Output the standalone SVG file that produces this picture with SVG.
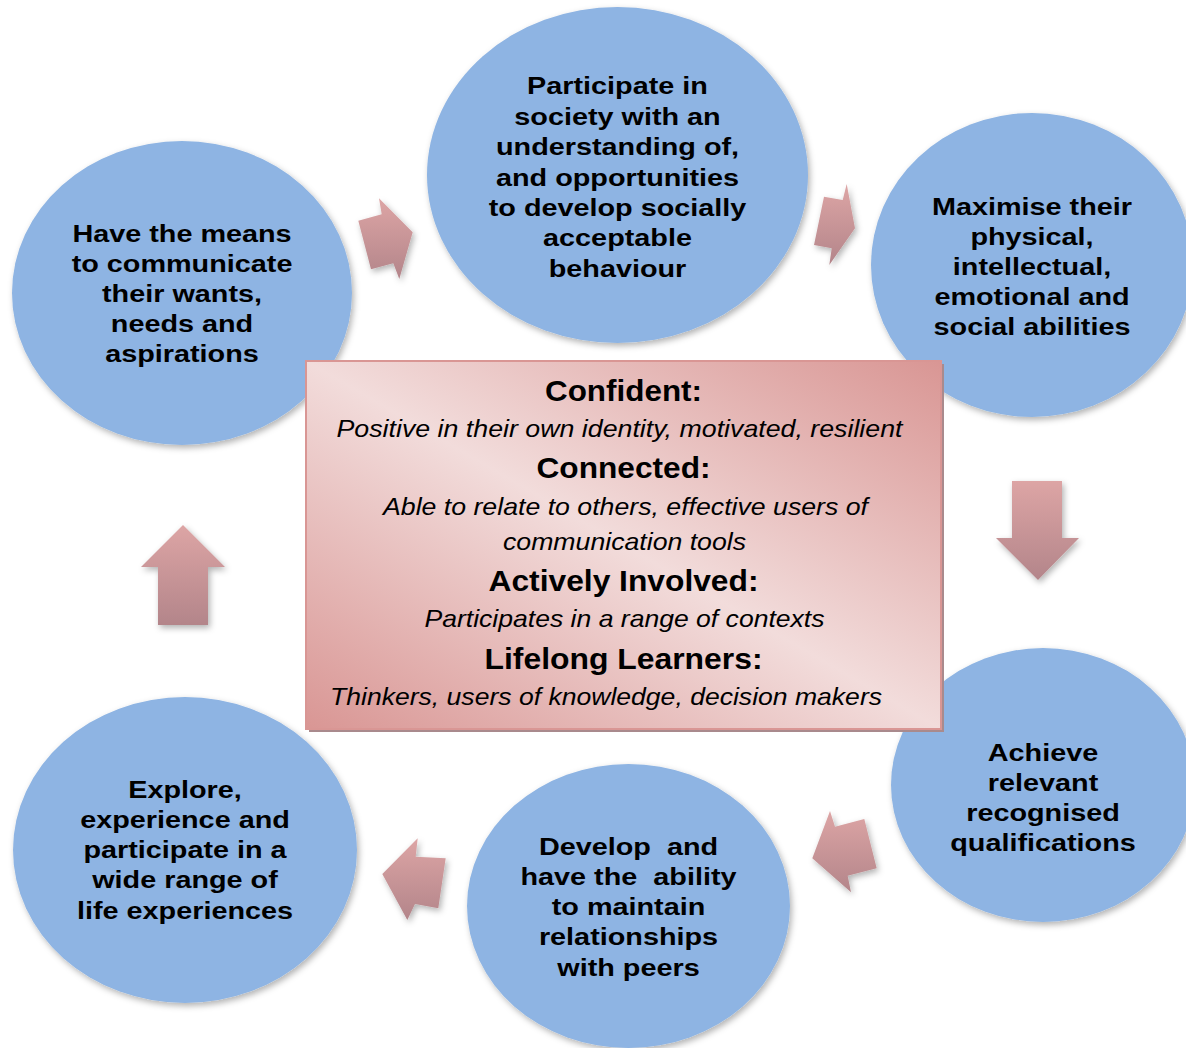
<svg xmlns="http://www.w3.org/2000/svg" width="1186" height="1048" viewBox="0 0 1186 1048">
<defs>
<style>
.circle{fill:#8eb4e3;filter:url(#soft);}
.ctext{font-family:"Liberation Sans",Arial,sans-serif;font-weight:bold;font-size:24px;fill:#000;text-anchor:middle;}
.arrow{fill:url(#arrowGrad);filter:url(#soft);}
.head{font-family:"Liberation Sans",Arial,sans-serif;font-weight:bold;font-size:30px;fill:#000;text-anchor:middle;}
.desc{font-family:"Liberation Sans",Arial,sans-serif;font-style:italic;font-size:24px;fill:#000;text-anchor:middle;}
</style>
<filter id="soft" x="-20%" y="-20%" width="140%" height="140%">
<feDropShadow dx="2" dy="3" stdDeviation="3" flood-color="#000" flood-opacity="0.3"/>
</filter>
<linearGradient id="arrowGrad" x1="0" y1="0" x2="0" y2="1">
<stop offset="0" stop-color="#dda5a5"/>
<stop offset="1" stop-color="#b3858a"/>
</linearGradient>
<linearGradient id="boxGrad" x1="0" y1="1" x2="1" y2="0">
<stop offset="0" stop-color="#d99694"/>
<stop offset="0.5" stop-color="#f2dcdb"/>
<stop offset="1" stop-color="#d99694"/>
</linearGradient>
</defs>

<g id="node-communicate">
<ellipse class="circle" cx="182" cy="293" rx="170" ry="152"/>
<g transform="translate(182 0) scale(1.2 1)">
<text class="ctext" x="0" y="242">Have the means</text>
<text class="ctext" x="0" y="272">to communicate</text>
<text class="ctext" x="0" y="302">their wants,</text>
<text class="ctext" x="0" y="332">needs and</text>
<text class="ctext" x="0" y="362">aspirations</text>
</g>
</g>

<g id="node-participate">
<ellipse class="circle" cx="617.5" cy="175" rx="190.5" ry="168"/>
<g transform="translate(617.5 0) scale(1.2 1)">
<text class="ctext" x="0" y="94">Participate in</text>
<text class="ctext" x="0" y="125">society with an</text>
<text class="ctext" x="0" y="155">understanding of,</text>
<text class="ctext" x="0" y="186">and opportunities</text>
<text class="ctext" x="0" y="216">to develop socially</text>
<text class="ctext" x="0" y="246">acceptable</text>
<text class="ctext" x="0" y="277">behaviour</text>
</g>
</g>

<g id="node-maximise">
<ellipse class="circle" cx="1032" cy="265" rx="161" ry="152"/>
<g transform="translate(1032 0) scale(1.2 1)">
<text class="ctext" x="0" y="215">Maximise their</text>
<text class="ctext" x="0" y="245">physical,</text>
<text class="ctext" x="0" y="275">intellectual,</text>
<text class="ctext" x="0" y="305">emotional and</text>
<text class="ctext" x="0" y="335">social abilities</text>
</g>
</g>

<g id="node-achieve">
<ellipse class="circle" cx="1043" cy="785" rx="152" ry="137"/>
<g transform="translate(1043 0) scale(1.2 1)">
<text class="ctext" x="0" y="761">Achieve</text>
<text class="ctext" x="0" y="791">relevant</text>
<text class="ctext" x="0" y="821">recognised</text>
<text class="ctext" x="0" y="851">qualifications</text>
</g>
</g>

<g id="node-relationships">
<ellipse class="circle" cx="628.5" cy="906" rx="161.5" ry="142"/>
<g transform="translate(628.5 0) scale(1.2 1)">
<text class="ctext" x="0" y="855" xml:space="preserve">Develop  and</text>
<text class="ctext" x="0" y="885" xml:space="preserve">have the  ability</text>
<text class="ctext" x="0" y="915">to maintain</text>
<text class="ctext" x="0" y="945">relationships</text>
<text class="ctext" x="0" y="976">with peers</text>
</g>
</g>

<g id="node-explore">
<ellipse class="circle" cx="185" cy="850" rx="172" ry="153"/>
<g transform="translate(185 0) scale(1.2 1)">
<text class="ctext" x="0" y="798">Explore,</text>
<text class="ctext" x="0" y="828">experience and</text>
<text class="ctext" x="0" y="858">participate in a</text>
<text class="ctext" x="0" y="888">wide range of</text>
<text class="ctext" x="0" y="919">life experiences</text>
</g>
</g>

<g id="connectors">
<polygon class="arrow" points="358.3,220.7 381.7,214.3 379,198.3 412.7,232.3 399.3,279 393.3,263.3 371,269.3"/>
<polygon class="arrow" points="824,196.7 842.7,200 846.7,184 855,228.3 829.3,265 831.7,248.3 814,245"/>
<polygon class="arrow" points="1012,481 1062,481 1062,538 1079,538 1038,580 996,538 1012,538"/>
<polygon class="arrow" points="830,811 835,826.7 864.3,819 876.7,868.3 847.7,875.7 851,892.3 812.3,858.3"/>
<polygon class="arrow" points="417.7,838.3 415.7,856.7 445.7,858.3 438.3,908.3 415,904 407.3,920 382.3,874"/>
<polygon class="arrow" points="183,525 225,567 208,567 208,625 158,625 158,567 141,567"/>
</g>

<g id="node-center">
<rect x="309" y="364" width="635" height="368" fill="#a98a8d"/>
<rect x="306" y="361" width="635" height="368" fill="url(#boxGrad)" stroke="#d99694" stroke-width="2"/>
<text class="head" x="623.5" y="401" textLength="157" lengthAdjust="spacingAndGlyphs">Confident:</text>
<text class="desc" x="619.5" y="437" textLength="566" lengthAdjust="spacingAndGlyphs">Positive in their own identity, motivated, resilient</text>
<text class="head" x="623.5" y="478" textLength="174" lengthAdjust="spacingAndGlyphs">Connected:</text>
<text class="desc" x="625.5" y="515" textLength="485" lengthAdjust="spacingAndGlyphs">Able to relate to others, effective users of</text>
<text class="desc" x="624.5" y="550" textLength="243" lengthAdjust="spacingAndGlyphs">communication tools</text>
<text class="head" x="623.5" y="591" textLength="270" lengthAdjust="spacingAndGlyphs">Actively Involved:</text>
<text class="desc" x="624.5" y="627" textLength="400" lengthAdjust="spacingAndGlyphs">Participates in a range of contexts</text>
<text class="head" x="623.5" y="669" textLength="278" lengthAdjust="spacingAndGlyphs">Lifelong Learners:</text>
<text class="desc" x="606" y="705" textLength="552" lengthAdjust="spacingAndGlyphs">Thinkers, users of knowledge, decision makers</text>
</g>
</svg>
